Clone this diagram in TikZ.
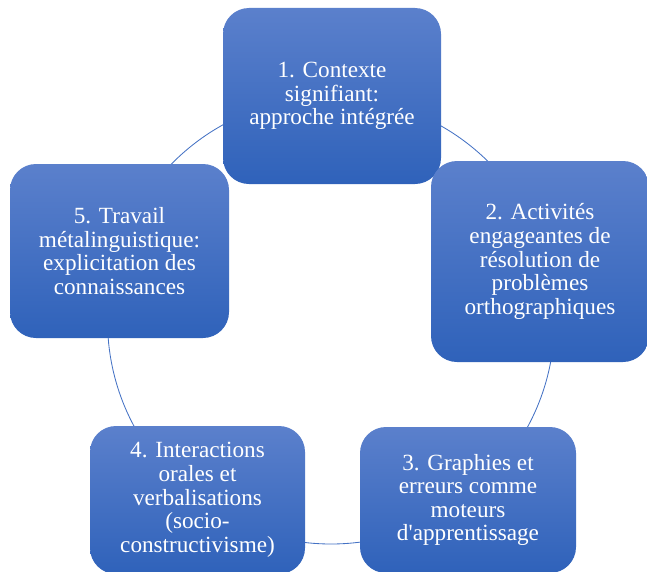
\documentclass[tikz,border=0pt]{standalone}
\usepackage{fontspec}
\setmainfont{Liberation Serif}[Ligatures=TeXOff]
\usepackage{xcolor}
\definecolor{steptop}{HTML}{5B80CC}
\definecolor{stepbot}{HTML}{2F62BA}
\definecolor{ringcolor}{HTML}{4472C4}

\begin{document}
\begin{tikzpicture}[
  stepbox/.style={rounded corners=0.65cm, top color=steptop, bottom color=stepbot,
                  draw=none, text=white, align=center, inner sep=0pt,
                  font=\fontsize{16.5}{16.8}\selectfont},
  ring/.style={draw=ringcolor, line width=0.6pt},
]
  \useasboundingbox (0,0) rectangle (16.175,14.275);

  % Cycle
  \coordinate (hub) at (8.275, 6.2625);
  \draw[ring] (hub) circle (5.5875);

  % Steps
  \node[stepbox, minimum width=5.45cm, minimum height=4.4cm] (contexte) at (8.3, 11.875)
    {1. Contexte\\signifiant:\\approche intégrée};
  \node[stepbox, minimum width=5.45cm, minimum height=5.025cm] (activites) at (13.5, 7.7375)
    {2. Activités\\engageantes de\\résolution de\\problèmes\\orthographiques};
  \node[stepbox, minimum width=5.4cm, minimum height=3.65cm] (graphies) at (11.7, 1.775)
    {3. Graphies et\\erreurs comme\\moteurs\\d'apprentissage};
  \node[stepbox, minimum width=5.375cm, minimum height=3.7cm] (interactions) at (4.9375, 1.775)
    {4. Interactions\\orales et\\verbalisations\\(socio-\\constructivisme)};
  \node[stepbox, minimum width=5.475cm, minimum height=4.35cm] (travail) at (2.9875, 8.0)
    {5. Travail\\métalinguistique:\\explicitation des\\connaissances};

\end{tikzpicture}
\end{document}
